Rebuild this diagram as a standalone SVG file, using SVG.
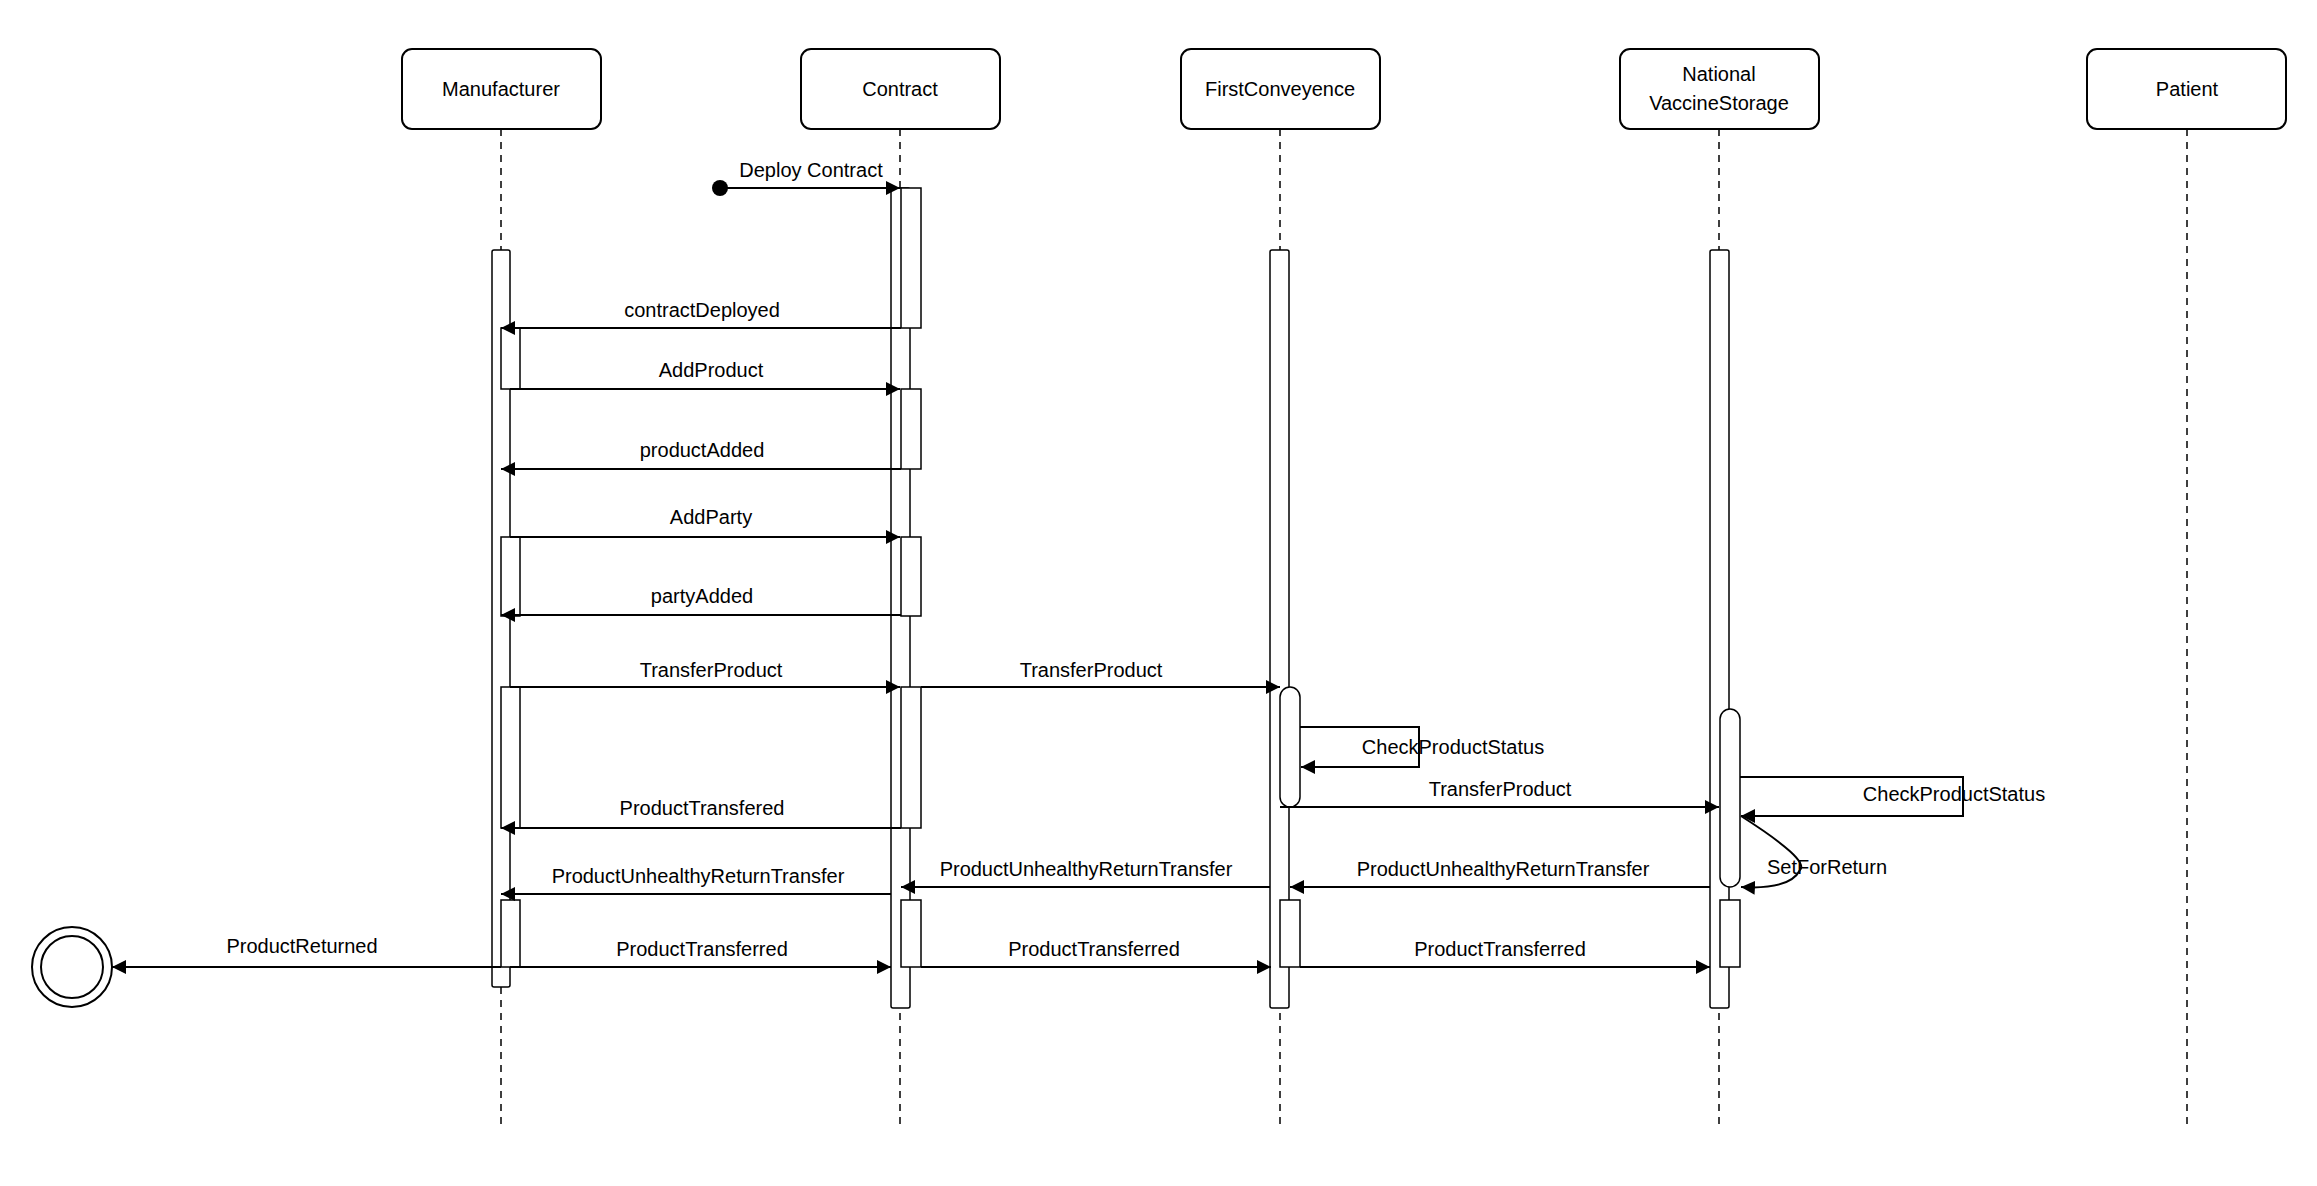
<svg xmlns="http://www.w3.org/2000/svg" width="2317" height="1186" viewBox="0 0 2317 1186">
<style>
text{font-family:"Liberation Sans",Arial,sans-serif;font-size:20px;fill:#000}
.box{fill:#fff;stroke:#000;stroke-width:2}
.life{stroke:#000;stroke-width:1.5;stroke-dasharray:7 6;fill:none}
.act{fill:#fff;stroke:#000;stroke-width:1.5}
.msg{stroke:#000;stroke-width:2;fill:none;marker-end:url(#arr)}
.plain{stroke:#000;stroke-width:2;fill:none}
.c{text-anchor:middle}
</style>
<defs>
<marker id="arr" markerUnits="userSpaceOnUse" markerWidth="16" markerHeight="14" refX="14" refY="7" orient="auto"><path d="M0,0 L14,7 L0,14 Z" fill="#000"/></marker>
</defs>
<rect width="2317" height="1186" fill="#fff"/>
<g id="lifelines">
<line class="life" x1="501" y1="129" x2="501" y2="1126"/>
<line class="life" x1="900" y1="129" x2="900" y2="1126"/>
<line class="life" x1="1280" y1="129" x2="1280" y2="1126"/>
<line class="life" x1="1719" y1="129" x2="1719" y2="1126"/>
<line class="life" x1="2187" y1="129" x2="2187" y2="1126"/>
</g>
<g id="Manufacturer"><rect class="box" x="402" y="49" width="199" height="80" rx="10"/><text class="c" x="501" y="96">Manufacturer</text>
<rect class="act" x="492" y="250" width="18" height="737" rx="2"/>
<rect class="act" x="501" y="328" width="19" height="61"/>
<rect class="act" x="501" y="537" width="19" height="79"/>
<rect class="act" x="501" y="687" width="19" height="141"/>
<rect class="act" x="501" y="900" width="19" height="67"/></g>
<g id="Contract"><rect class="box" x="801" y="49" width="199" height="80" rx="10"/><text class="c" x="900" y="96">Contract</text>
<rect class="act" x="891" y="188" width="19" height="820" rx="2"/>
<rect class="act" x="901" y="188" width="20" height="140"/>
<rect class="act" x="901" y="389" width="20" height="80"/>
<rect class="act" x="901" y="537" width="20" height="79"/>
<rect class="act" x="901" y="687" width="20" height="141"/>
<rect class="act" x="901" y="900" width="20" height="67"/></g>
<g id="FirstConveyence"><rect class="box" x="1181" y="49" width="199" height="80" rx="10"/><text class="c" x="1280" y="96">FirstConveyence</text>
<rect class="act" x="1270" y="250" width="19" height="758" rx="2"/>
<rect class="act" x="1280" y="687" width="20" height="120" rx="10"/>
<rect class="act" x="1280" y="900" width="20" height="67"/></g>
<g id="NationalVaccineStorage"><rect class="box" x="1620" y="49" width="199" height="80" rx="10"/><text class="c" x="1719" y="81">National</text><text class="c" x="1719" y="110">VaccineStorage</text>
<rect class="act" x="1710" y="250" width="19" height="758" rx="2"/>
<rect class="act" x="1720" y="709" width="20" height="178" rx="10"/>
<rect class="act" x="1720" y="900" width="20" height="67"/></g>
<g id="Patient"><rect class="box" x="2087" y="49" width="199" height="80" rx="10"/><text class="c" x="2187" y="96">Patient</text></g>
<g id="end"><circle cx="72" cy="967" r="40" fill="#fff" stroke="#000" stroke-width="2"/><circle cx="72" cy="967" r="31" fill="none" stroke="#000" stroke-width="2"/></g>
<g id="connectors">
<circle cx="720" cy="188" r="8" fill="#000"/>
<line class="msg" x1="720" y1="188" x2="900" y2="188"/><text class="c" x="811" y="177">Deploy Contract</text>
<line class="msg" x1="901" y1="328" x2="501" y2="328"/><text class="c" x="702" y="317">contractDeployed</text>
<line class="msg" x1="510" y1="389" x2="900" y2="389"/><text class="c" x="711" y="377">AddProduct</text>
<line class="msg" x1="901" y1="469" x2="501" y2="469"/><text class="c" x="702" y="457">productAdded</text>
<line class="msg" x1="510" y1="537" x2="900" y2="537"/><text class="c" x="711" y="524">AddParty</text>
<line class="msg" x1="901" y1="615" x2="501" y2="615"/><text class="c" x="702" y="603">partyAdded</text>
<line class="msg" x1="510" y1="687" x2="900" y2="687"/><text class="c" x="711" y="677">TransferProduct</text>
<line class="msg" x1="921" y1="687" x2="1280" y2="687"/><text class="c" x="1091" y="677">TransferProduct</text>
<polyline class="msg" points="1300,727 1419,727 1419,767 1301,767"/><text class="c" x="1453" y="754">CheckProductStatus</text>
<line class="msg" x1="1280" y1="807" x2="1719" y2="807"/><text class="c" x="1500" y="796">TransferProduct</text>
<polyline class="msg" points="1740,777 1963,777 1963,816 1741,816"/><text class="c" x="1954" y="801">CheckProductStatus</text>
<path class="msg" d="M1741,816 Q1810,860 1800,870 Q1790,890 1741,887"/><text class="c" x="1827" y="874">SetForReturn</text>
<line class="msg" x1="901" y1="828" x2="501" y2="828"/><text class="c" x="702" y="815">ProductTransfered</text>
<line class="msg" x1="891" y1="894" x2="501" y2="894"/><text class="c" x="698" y="883">ProductUnhealthyReturnTransfer</text>
<line class="msg" x1="1270" y1="887" x2="901" y2="887"/><text class="c" x="1086" y="876">ProductUnhealthyReturnTransfer</text>
<line class="msg" x1="1710" y1="887" x2="1290" y2="887"/><text class="c" x="1503" y="876">ProductUnhealthyReturnTransfer</text>
<line class="msg" x1="501" y1="967" x2="112" y2="967"/><text class="c" x="302" y="953">ProductReturned</text>
<line class="msg" x1="510" y1="967" x2="891" y2="967"/><text class="c" x="702" y="956">ProductTransferred</text>
<line class="msg" x1="921" y1="967" x2="1271" y2="967"/><text class="c" x="1094" y="956">ProductTransferred</text>
<line class="msg" x1="1300" y1="967" x2="1710" y2="967"/><text class="c" x="1500" y="956">ProductTransferred</text>
</g>
</svg>
